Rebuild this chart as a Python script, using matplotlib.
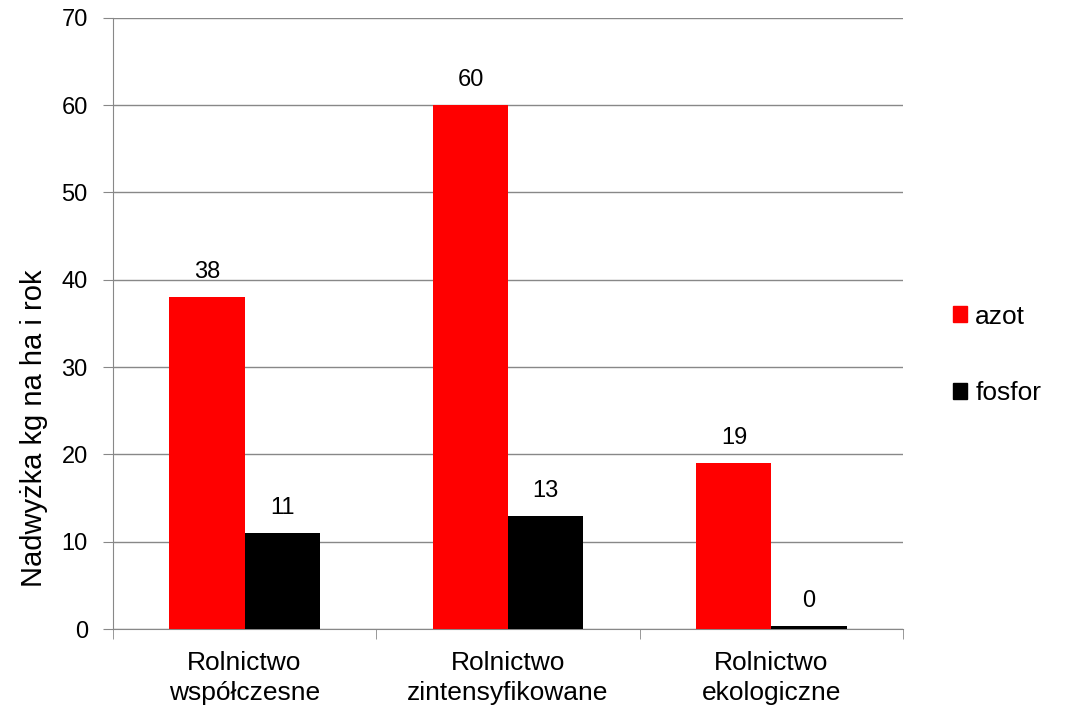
import numpy as np
import matplotlib.pyplot as plt
from matplotlib.patches import Patch

plt.rcParams['font.family'] = ['Liberation Sans', 'DejaVu Sans']

categories = ['Rolnictwo\nwspółczesne', 'Rolnictwo\nzintensyfikowane', 'Rolnictwo\nekologiczne']
azot = [38, 60, 19]
fosfor = [11, 13, 0.4]
series_names = ['azot', 'fosfor']
yticks = [0, 10, 20, 30, 40, 50, 60, 70]

fig = plt.figure(figsize=(10.74, 7.10), dpi=100)
ax = fig.add_axes([0.105, 0.114, 0.736, 0.861])

x = np.arange(len(categories))
w = 0.285
b1 = ax.bar(x - w/2, azot, w, color='#ff0000', zorder=3)
b2 = ax.bar(x + w/2, fosfor, w, color='#000000', zorder=3)

for bars in (b1, b2):
    for r in bars:
        ax.annotate(f'{r.get_height():.0f}', (r.get_x() + r.get_width()/2, r.get_height()),
                    xytext=(0, 10), textcoords='offset points', ha='center', va='bottom',
                    fontsize=17)

ax.set_xlim(-0.5, len(categories) - 0.5)
ax.set_ylim(0, 70)
ax.set_yticks(yticks)
ax.yaxis.grid(True, color='#888888', linewidth=1, zorder=0)
ax.set_xticks(x)
ax.set_xticklabels(categories, fontsize=19, linespacing=1.3)
ax.set_xticks(np.arange(len(categories) + 1) - 0.5, minor=True)
ax.tick_params(axis='x', which='major', length=0, pad=16)
ax.tick_params(axis='x', which='minor', length=7, color='#888888')
ax.tick_params(axis='y', length=7, color='#888888', labelsize=17, pad=11)

for s in ('top', 'right'):
    ax.spines[s].set_visible(False)
for s in ('left', 'bottom'):
    ax.spines[s].set_color('#888888')

ax.set_ylabel('Nadwyżka kg na ha i rok', fontsize=21)
ax.yaxis.set_label_coords(-0.082, 0.329)

handles = [Patch(color='#ff0000'), Patch(color='#000000')]
fig.legend(handles, series_names, loc='center left', bbox_to_anchor=(0.875, 0.5),
           frameon=False, fontsize=19, handlelength=0.55, handleheight=0.55,
           handletextpad=0.3, labelspacing=2.0, borderpad=0)

fig.savefig('out.png', dpi=100)
